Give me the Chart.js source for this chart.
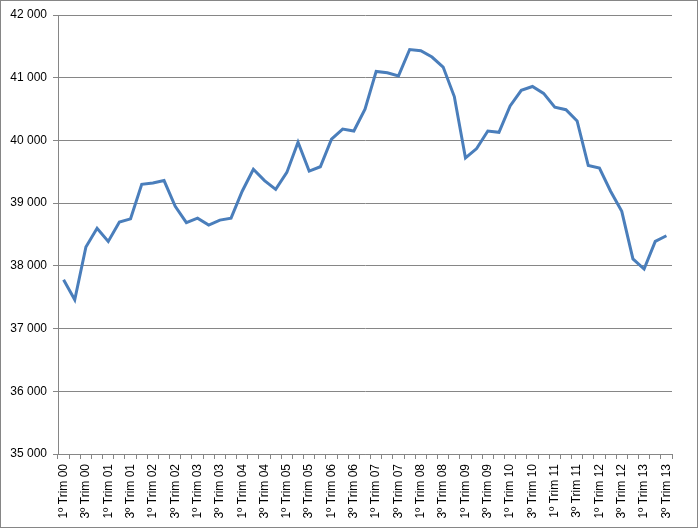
<!DOCTYPE html>
<html>
<head>
<meta charset="utf-8">
<title>Quarterly series</title>
<script src="https://cdn.jsdelivr.net/npm/chart.js@4/dist/chart.umd.min.js"></script>
<style>
    html, body { margin: 0; padding: 0; background: #fff; }
    canvas { display: block; }
</style>
</head>
<body>
<canvas id="lineChart" width="699" height="531"></canvas>
<script>
// ===== DATA =====
var years = ['00', '01', '02', '03', '04', '05', '06', '07', '08', '09', '10', '11', '12', '13'];
var quarters = ['1º Trim', '2º Trim', '3º Trim', '4º Trim'];
var lastQuarterCount = 55; // 1º Trim 00 .. 3º Trim 13

var values = [
    37780, 37460, 38300, 38600, 38390, 38700, 38750, 39300, 39320, 39360,
    38950, 38690, 38760, 38650, 38730, 38760, 39190, 39540, 39360, 39220,
    39490, 39970, 39510, 39580, 40020, 40180, 40150, 40500, 41100, 41080,
    41030, 41450, 41430, 41330, 41170, 40700, 39720, 39870, 40150, 40130,
    40550, 40800, 40860, 40750, 40530, 40490, 40310, 39600, 39560, 39190,
    38870, 38110, 37950, 38390, 38480
];

var yMin = 35000;
var yMax = 42000;
var yStep = 1000;

// build the category labels
var labels = [];
years.forEach(function(y) {
    quarters.forEach(function(q) {
        if (labels.length < lastQuarterCount) labels.push(q + ' ' + y);
    });
});

function formatThousands(v) {
    return String(v).replace(/\B(?=(\d{3})+(?!\d))/g, ' ');
}

// outer frame like the spreadsheet chart box
var framePlugin = {
    id: 'frame',
    afterDraw: function(chart) {
        var c = chart.ctx;
        c.save();
        c.strokeStyle = '#868686';
        c.lineWidth = 1;
        c.strokeRect(0.5, 0.5, 697, 527);
        c.restore();
    }
};

var gridColor = '#868686';
var tickFont = { family: '"Liberation Sans", Arial, sans-serif', size: 12 };

var ctx = document.getElementById('lineChart').getContext('2d');
new Chart(ctx, {
    type: 'line',
    data: {
        labels: labels,
        datasets: [{
            data: values,
            borderColor: '#4a7ebb',
            borderWidth: 3,
            pointRadius: 0,
            tension: 0,
            fill: false
        }]
    },
    options: {
        responsive: false,
        animation: false,
        layout: {
            padding: { left: 0, top: 15, right: 27, bottom: 0 }
        },
        plugins: {
            legend: { display: false },
            tooltip: { enabled: false }
        },
        scales: {
            x: {
                offset: true,
                grid: {
                    offset: true,
                    drawOnChartArea: false,
                    drawTicks: true,
                    tickLength: 5,
                    color: gridColor
                },
                border: { color: gridColor },
                ticks: {
                    autoSkip: false,
                    minRotation: 90,
                    maxRotation: 90,
                    padding: 5,
                    color: '#000',
                    font: tickFont,
                    callback: function(v, i) {
                        return i % 2 === 0 ? labels[i] : '';
                    }
                },
                afterFit: function(scale) { scale.height = 77; }
            },
            y: {
                min: yMin,
                max: yMax,
                grid: {
                    color: gridColor,
                    tickLength: 5
                },
                border: { color: gridColor },
                ticks: {
                    stepSize: yStep,
                    padding: 6,
                    color: '#000',
                    font: tickFont,
                    callback: function(v) { return formatThousands(v); }
                },
                afterFit: function(scale) { scale.width = 58; }
            }
        }
    },
    plugins: [framePlugin]
});
</script>
</body>
</html>
